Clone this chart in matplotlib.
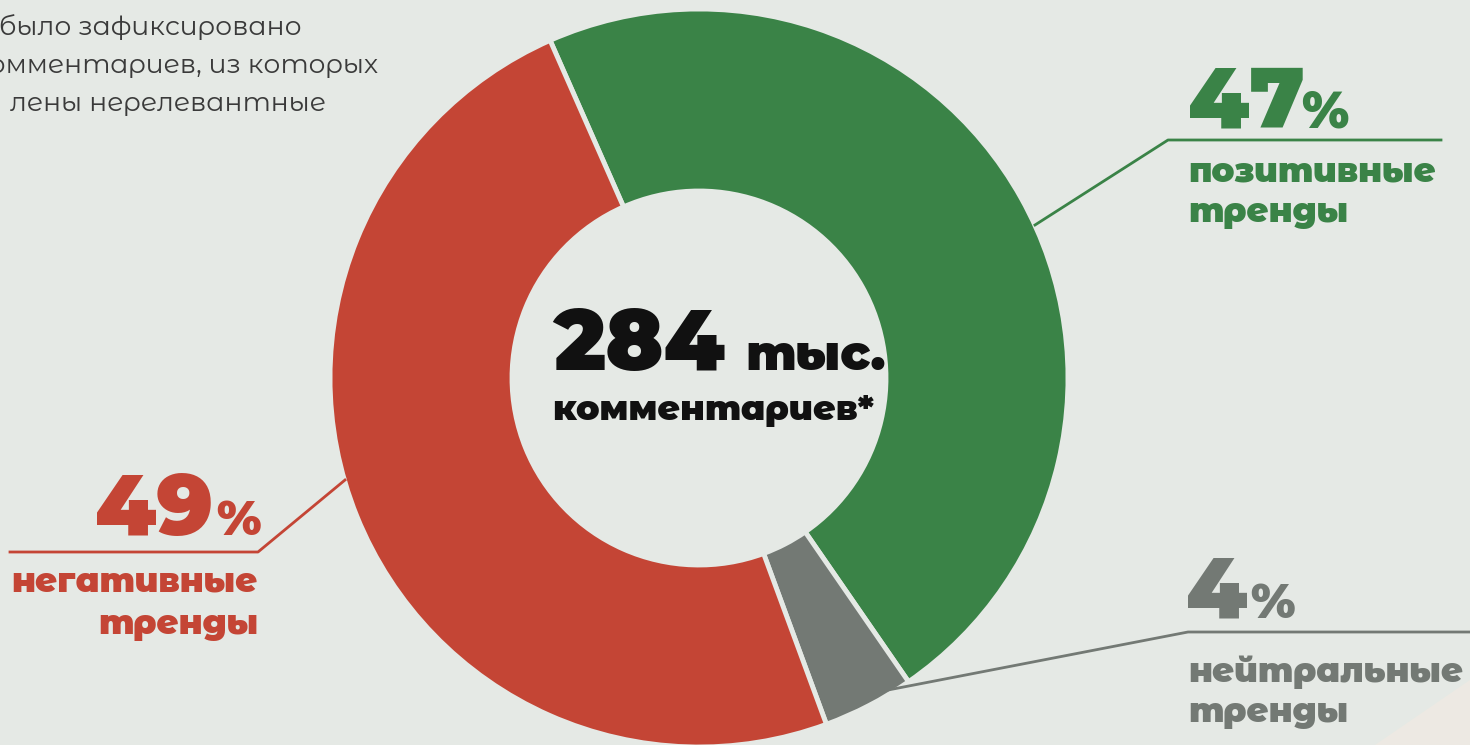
import matplotlib
matplotlib.use("Agg")
from matplotlib import pyplot as plt
from matplotlib.patches import Polygon

# data
labels = [["позитивные", "тренды"], ["нейтральные", "тренды"], ["негативные", "тренды"]]
shares = [47, 4, 49]
colors = ["#3a8347", "#737974", "#c44535"]
total_text = "284"
total_unit = "тыс."
total_label = "комментариев*"
note_lines = ["было зафиксировано", "комментариев, из которых", "лены нерелевантные"]

W, H = 1470, 745
bg = "#e5e9e5"
font = ["Montserrat Alternates", "DejaVu Sans"]


def py(y):
    # pixel row -> data y
    return H - y


def txt(x, y, s, size, color, weight=900, ha="left"):
    ax.text(x, py(y), s, fontsize=size, fontweight=weight, family=font,
            color=color, ha=ha, va="baseline")


fig = plt.figure(figsize=(14.7, 7.45), dpi=100)
fig.patch.set_facecolor(bg)
ax = fig.add_axes([0, 0, 1, 1])

# faint beige corner
ax.add_patch(Polygon([(1470, py(680)), (1470, 0), (1375, 0)], closed=True,
                     facecolor="#ede9e3", edgecolor="none", zorder=0))

ax.pie(shares, colors=colors, startangle=113.8, counterclock=False,
       center=(699, py(378)), radius=369, frame=True,
       wedgeprops=dict(width=182, edgecolor=bg, linewidth=3.5))
ax.set_xlim(0, W)
ax.set_ylim(0, H)
ax.set_aspect("equal")
ax.axis("off")

# center text
txt(553, 370, total_text, 62, "#111111")
txt(745, 370, total_unit, 35, "#111111")
txt(713, 420, total_label, 25, "#111111", ha="center")

# note in the top-left corner (cut by the left edge)
for i, line in enumerate(note_lines):
    x1 = [302, 378, 326][i]
    txt(x1, 35 + 38 * i, line, 19.2, "#3a3a3a", weight=400, ha="right")

# callouts
green, gray, red = colors
ax.plot([1035, 1168, 1441], [py(225), py(140), py(140)], color=green, lw=2)
ax.plot([345, 258, 10], [py(480), py(552), py(552)], color=red, lw=2)
ax.plot([888, 1188, 1470], [py(690), py(632), py(632)], color=gray, lw=2)

txt(1188, 127, f"{shares[0]}", 62, green)
txt(1301, 127, "%", 37, green)
txt(1188, 182, labels[0][0], 24.5, green)
txt(1188, 222, labels[0][1], 24.5, green)

txt(213, 535, f"{shares[2]}", 62, red, ha="right")
txt(216, 535, "%", 35, red)
txt(258, 592, labels[2][0], 24.5, red, ha="right")
txt(258, 634, labels[2][1], 24.5, red, ha="right")

txt(1186, 618, f"{shares[1]}", 62, gray)
txt(1250, 618, "%", 35, gray)
txt(1188, 682, labels[1][0], 24.5, gray)
txt(1188, 722, labels[1][1], 24.5, gray)

fig.savefig("out.png", dpi=100, facecolor=bg)
